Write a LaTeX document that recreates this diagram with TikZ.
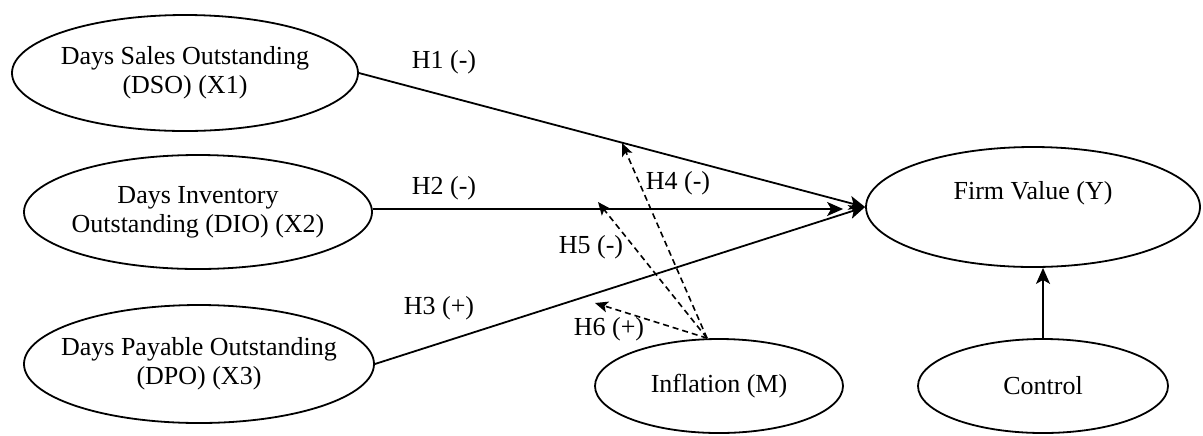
\documentclass[tikz,border=0pt]{standalone}
\usepackage{fontspec}
\setmainfont{Liberation Serif}
\newfontfamily\figfont{Liberation Serif}
\usepackage{tikz}
\usetikzlibrary{arrows.meta,positioning,calc,shapes.geometric}

\begin{document}
\begin{tikzpicture}[x=0.5pt, y=-0.5pt, >={Stealth[length=8pt,width=7pt,inset=2pt]},
  every node/.style={font=\figfont\fontsize{13}{14.5}\selectfont},
  latent/.style={draw,ellipse,line width=0.9pt,inner sep=0pt},
  txt/.style={label={[align=center]center:#1}},
  path/.style={->,line width=0.9pt},
  moder/.style={-{Stealth[length=6.5pt,width=5.5pt,inset=1.5pt]},line width=0.8pt,dash pattern=on 3pt off 2pt}]
\useasboundingbox (0,0) rectangle (1203,435);
% constructs
\node[latent,minimum width=173pt,minimum height=58pt,txt={Days Sales Outstanding\\(DSO) (X1)}] (dso) at (185,73) {};
\node[latent,minimum width=174pt,minimum height=57pt,txt={Days Inventory\\Outstanding (DIO) (X2)}] (dio) at (198,212) {};
\node[latent,minimum width=175pt,minimum height=59pt,txt={Days Payable Outstanding\\(DPO) (X3)}] (dpo) at (199,364) {};
\node[latent,minimum width=167pt,minimum height=60pt] (firm) at (1033,207) {};
\node (firmtxt) at (1033,193) {Firm Value (Y)};
\node[latent,minimum width=124pt,minimum height=47pt,txt={Inflation (M)}] (infl) at (719,386) {};
\node[latent,minimum width=125pt,minimum height=47pt,txt={Control}] (ctrl) at (1043,386) {};
% direct paths
\draw[path] (dso.east) -- (firm.west);
\draw[path,shorten >=11pt] ([yshift=1.5pt]dio.east) -- ([yshift=1.5pt]dio.east -| firm.west);
\draw[path] (dpo.east) -- (firm.west);
\draw[path] (ctrl.north) -- (ctrl.north |- firm.south);
% moderation
\coordinate (mfrom) at ([xshift=-6pt]infl.north);
\coordinate (hfour) at (622,143);
\coordinate (hfive) at (598,202);
\coordinate (hsix) at (595,303);
\draw[moder] (mfrom) -- (hfour);
\draw[moder] (mfrom) -- (hfive);
\draw[moder] (mfrom) -- (hsix);
% labels
\node (lone) at (444,62) {H1 (-)};
\node (ltwo) at (444,188) {H2 (-)};
\node (lthree) at (439,308) {H3 (+)};
\node (lfour) at (678,183) {H4 (-)};
\node (lfive) at (591,247) {H5 (-)};
\node (lsix) at (609,329) {H6 (+)};
\end{tikzpicture}
\end{document}
